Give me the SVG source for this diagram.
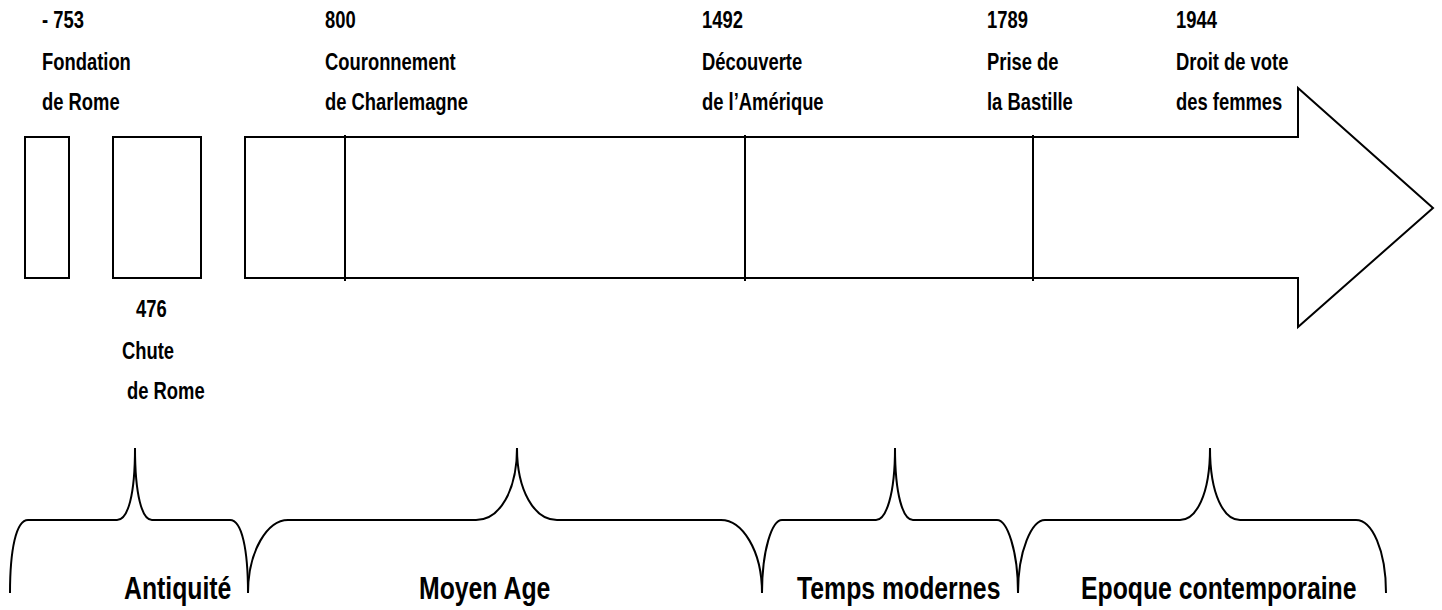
<svg xmlns="http://www.w3.org/2000/svg" width="1442" height="610" viewBox="0 0 1442 610">
<style>
.s{fill:none;stroke:#000;stroke-width:2}
.w{fill:#fff;stroke:#000;stroke-width:2}
.t{font-family:"Liberation Sans",Arial,sans-serif;font-weight:bold;font-size:23px;fill:#000}
.b{font-family:"Liberation Sans",Arial,sans-serif;font-weight:bold;font-size:31px;fill:#000}
</style>
<rect width="1442" height="610" fill="#fff"/>
<g id="box1"><rect class="w" x="25" y="137" width="44" height="141"/></g>
<g id="box2"><rect class="w" x="113" y="137" width="88" height="141"/></g>
<g id="arrow"><path class="w" d="M245,137 H1298 V88 L1433,208 L1298,327 V278 H245 Z"/></g>
<g id="ticks">
<line class="s" x1="345" y1="135" x2="345" y2="281"/>
<line class="s" x1="745" y1="135" x2="745" y2="281"/>
<line class="s" x1="1033" y1="135" x2="1033" y2="281"/>
</g>
<g id="label-753">
<text class="t" transform="translate(42,28) scale(0.8,1)">- 753</text>
<text class="t" transform="translate(42,70) scale(0.8,1)">Fondation</text>
<text class="t" transform="translate(42,110) scale(0.8,1)">de Rome</text>
</g>
<g id="label-800">
<text class="t" transform="translate(325,28) scale(0.8,1)">800</text>
<text class="t" transform="translate(325,70) scale(0.8,1)">Couronnement</text>
<text class="t" transform="translate(325,110) scale(0.8,1)">de Charlemagne</text>
</g>
<g id="label-1492">
<text class="t" transform="translate(702,28) scale(0.8,1)">1492</text>
<text class="t" transform="translate(702,70) scale(0.8,1)">Découverte</text>
<text class="t" transform="translate(702,110) scale(0.8,1)">de l’Amérique</text>
</g>
<g id="label-1789">
<text class="t" transform="translate(987,28) scale(0.8,1)">1789</text>
<text class="t" transform="translate(987,70) scale(0.8,1)">Prise de</text>
<text class="t" transform="translate(987,110) scale(0.8,1)">la Bastille</text>
</g>
<g id="label-1944">
<text class="t" transform="translate(1176,28) scale(0.8,1)">1944</text>
<text class="t" transform="translate(1176,70) scale(0.8,1)">Droit de vote</text>
<text class="t" transform="translate(1176,110) scale(0.8,1)">des femmes</text>
</g>
<g id="label-476">
<text class="t" transform="translate(136,317) scale(0.8,1)">476</text>
<text class="t" transform="translate(122,359) scale(0.8,1)">Chute</text>
<text class="t" transform="translate(127,399) scale(0.8,1)">de Rome</text>
</g>
<g id="connectors">
<path class="s" d="M10,593 C10,550 16,520 28,520 H117 C128,520 135,495 135,448 C135,495 142,520 152,520 H230 C242,520 248,550 248,593"/>
<path class="s" d="M248,593 C248,550 268,520 288,520 H476 C500,520 517,490 517,448 C517,490 534,520 557,520 H721 C742,520 762,550 762,593"/>
<path class="s" d="M762,593 C762,550 772,520 782,520 H876 C886,520 895,495 895,448 C895,495 903,520 913,520 H997 C1007,520 1018,550 1018,593"/>
<path class="s" d="M1018,593 C1018,550 1032,520 1045,520 H1180 C1196,520 1210,495 1210,448 C1210,495 1224,520 1240,520 H1356 C1372,520 1386,550 1386,593"/>
</g>
<g id="period-antiquite"><text class="b" transform="translate(124,599) scale(0.8,1)">Antiquité</text></g>
<g id="period-moyen-age"><text class="b" transform="translate(419,599) scale(0.8,1)">Moyen Age</text></g>
<g id="period-temps-modernes"><text class="b" transform="translate(797,599) scale(0.8,1)">Temps modernes</text></g>
<g id="period-epoque"><text class="b" transform="translate(1081,599) scale(0.8,1)">Epoque contemporaine</text></g>
</svg>
